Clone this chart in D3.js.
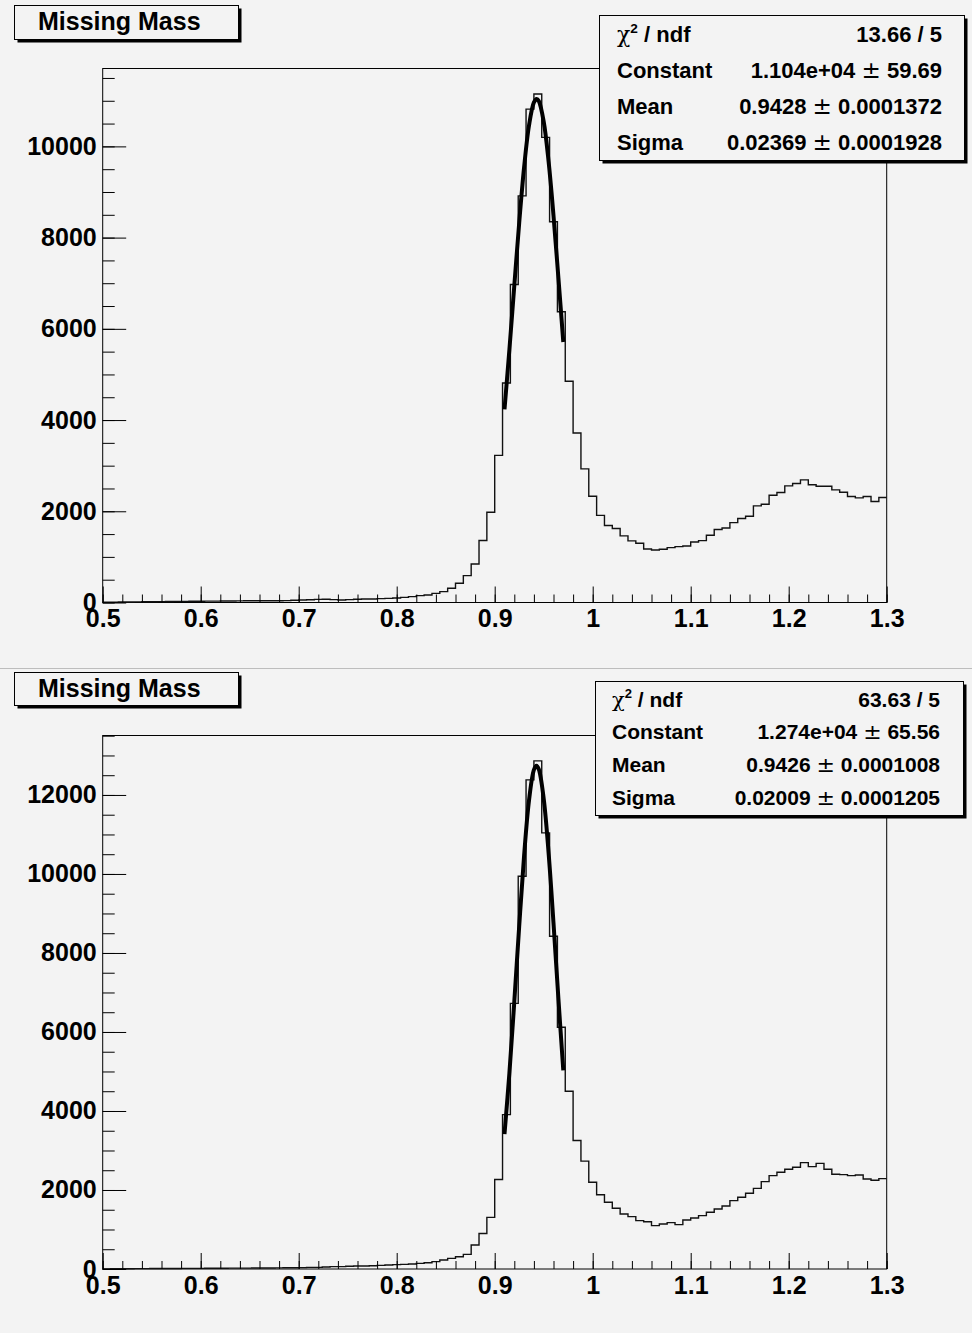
<!DOCTYPE html>
<html><head><meta charset="utf-8">
<script src="https://cdn.jsdelivr.net/npm/d3@7"></script>
<style>
body{margin:0;background:#f3f3f3}
svg{display:block}
text{font-family:"Liberation Sans",Arial,Helvetica,sans-serif;font-weight:bold;fill:#000}
</style>
</head><body>
<svg id="c" width="972" height="1333"></svg>
<script>
// ---------------- data ----------------
const xDomain = [0.5, 1.3];
const nBins = 100;
const xTickLabels = ["0.5","0.6","0.7","0.8","0.9","1","1.1","1.2","1.3"];
const yTicksTop = [0, 2000, 4000, 6000, 8000, 10000];
const yTicksBottom = [0, 2000, 4000, 6000, 8000, 10000, 12000];
const titleText = "Missing Mass";

const topCounts = [
  5, 8, 10, 12, 14, 16, 18, 20, 22, 24,
  25, 27, 28, 30, 31, 33, 34, 36, 37, 38,
  39, 40, 40, 42, 48, 55, 60, 68, 70, 62,
  55, 62, 70, 77, 77, 84, 91, 99, 113, 128,
  150, 165, 201, 238, 311, 421, 589, 845, 1360, 1979,
  3226, 4812, 6972, 8914, 10817, 11150, 10198, 8347, 6376, 4850,
  3717, 2930, 2330, 1910, 1687, 1621, 1460, 1350, 1299, 1174,
  1152, 1167, 1204, 1226, 1240, 1328, 1357, 1474, 1599, 1635,
  1752, 1840, 1892, 2119, 2155, 2353, 2411, 2558, 2609, 2689,
  2580, 2550, 2550, 2470, 2418, 2323, 2294, 2323, 2213, 2301
];
const bottomCounts = [
  3, 5, 6, 8, 9, 10, 11, 12, 13, 14,
  15, 16, 17, 18, 19, 20, 21, 22, 23, 24,
  25, 26, 28, 30, 32, 34, 42, 42, 51, 59,
  59, 68, 76, 76, 84, 93, 101, 110, 118, 127,
  143, 160, 186, 228, 270, 312, 371, 608, 900, 1308,
  2267, 3907, 6723, 9941, 12382, 12862, 11040, 8424, 6121, 4500,
  3253, 2732, 2196, 1880, 1688, 1536, 1393, 1325, 1224, 1198,
  1097, 1139, 1173, 1123, 1241, 1291, 1350, 1435, 1519, 1595,
  1730, 1815, 1916, 2042, 2211, 2363, 2448, 2524, 2574, 2692,
  2591, 2675, 2524, 2397, 2389, 2363, 2380, 2279, 2245, 2287
];

const topFitX = [0.910, 0.915, 0.920, 0.925, 0.930, 0.935, 0.940, 0.9428, 0.945, 0.950, 0.955, 0.960, 0.965, 0.970];
const topFitY = [4234, 5546, 6948, 8325, 9541, 10457, 10963, 11040, 10993, 10542, 9669, 8482, 7117, 5711];
const bottomFitX = [0.910, 0.915, 0.920, 0.925, 0.930, 0.935, 0.940, 0.9426, 0.945, 0.950, 0.955, 0.960, 0.965, 0.970];
const bottomFitY = [3416, 4958, 6767, 8680, 10466, 11861, 12634, 12740, 12650, 11904, 10531, 8755, 6843, 5026];

const statLabels = ["ndf", "Constant", "Mean", "Sigma"];
const topStatValues = ["13.66 / 5", "1.104e+04", "0.9428", "0.02369"];
const topStatErrors = [null, "59.69", "0.0001372", "0.0001928"];
const bottomStatValues = ["63.63 / 5", "1.274e+04", "0.9426", "0.02009"];
const bottomStatErrors = [null, "65.56", "0.0001008", "0.0001205"];

// ---------------- drawing ----------------
const svg = d3.select("#c");
svg.append("rect").attr("width", 972).attr("height", 1333).attr("fill", "#f3f3f3");
svg.append("line").attr("x1", 0).attr("x2", 972).attr("y1", 668.5).attr("y2", 668.5)
  .attr("stroke", "#bdbdbd").attr("stroke-width", 1);

function drawPanel(o) {
  const g = svg.append("g");
  const x = d3.scaleLinear().domain(xDomain).range([o.l, o.r]);
  const yMax = d3.max(o.counts) * 1.05;
  const y = d3.scaleLinear().domain([0, yMax]).range([o.b, o.t]);

  // frame
  g.append("rect").attr("x", o.l).attr("y", o.t).attr("width", o.r - o.l).attr("height", o.b - o.t)
    .attr("fill", "none").attr("stroke", "#000").attr("stroke-width", 1);

  // histogram outline
  const bw = (xDomain[1] - xDomain[0]) / nBins;
  const pts = o.counts.map((c, i) => [xDomain[0] + i * bw, c]);
  pts.push([xDomain[1], o.counts[o.counts.length - 1]]);
  g.append("path").datum(pts)
    .attr("d", d3.line().x(d => x(d[0])).y(d => y(d[1])).curve(d3.curveStepAfter))
    .attr("fill", "none").attr("stroke", "#111").attr("stroke-width", 1.4);

  // fit curve
  const fit = o.fitX.map((v, i) => [v, o.fitY[i]]);
  g.append("path").datum(fit)
    .attr("d", d3.line().x(d => x(d[0])).y(d => y(d[1])).curve(d3.curveCatmullRom))
    .attr("fill", "none").attr("stroke", "#000").attr("stroke-width", 4).attr("stroke-linecap", "butt");

  // x axis major
  const xMajor = xTickLabels.map(Number);
  const xa = g.append("g").attr("transform", `translate(0,${o.b})`)
    .call(d3.axisBottom(x).tickValues(xMajor).tickFormat((d, i) => xTickLabels[i])
      .tickSizeInner(-16).tickSizeOuter(0).tickPadding(7));
  xa.select(".domain").remove();
  xa.selectAll("text").attr("font-size", 25).style("font-weight", "bold");
  const xMinor = d3.range(0, 41).map(i => xDomain[0] + i * 0.02);
  const xm = g.append("g").attr("transform", `translate(0,${o.b})`)
    .call(d3.axisBottom(x).tickValues(xMinor).tickFormat("").tickSizeInner(-8).tickSizeOuter(0));
  xm.select(".domain").remove();

  // y axis major
  const ya = g.append("g").attr("transform", `translate(${o.l},0)`)
    .call(d3.axisLeft(y).tickValues(o.yTicks).tickFormat(d3.format("d"))
      .tickSizeInner(-23.5).tickSizeOuter(0).tickPadding(6));
  ya.select(".domain").remove();
  ya.selectAll("text").attr("font-size", 25).style("font-weight", "bold");
  const yMinor = d3.range(0, yMax, 500);
  const ym = g.append("g").attr("transform", `translate(${o.l},0)`)
    .call(d3.axisLeft(y).tickValues(yMinor).tickFormat("").tickSizeInner(-12).tickSizeOuter(0));
  ym.select(".domain").remove();
  g.selectAll(".tick line").attr("stroke", "#000").attr("stroke-width", 1);

  // title box
  const tb = o.titleBox;
  g.append("rect").attr("x", tb.x + 3).attr("y", tb.y + 3).attr("width", tb.w).attr("height", tb.h).attr("fill", "#000");
  g.append("rect").attr("x", tb.x).attr("y", tb.y).attr("width", tb.w).attr("height", tb.h)
    .attr("fill", "#f3f3f3").attr("stroke", "#000").attr("stroke-width", 1);
  g.append("text").attr("x", tb.tx).attr("y", tb.ty).attr("font-size", 25).text(titleText);

  // stats box
  const sb = o.statBox;
  g.append("rect").attr("x", sb.x + 3).attr("y", sb.y + 3).attr("width", sb.w).attr("height", sb.h).attr("fill", "#000");
  g.append("rect").attr("x", sb.x).attr("y", sb.y).attr("width", sb.w).attr("height", sb.h)
    .attr("fill", "#f3f3f3").attr("stroke", "#000").attr("stroke-width", 1);
  statLabels.forEach((lab, i) => {
    const by = sb.rows[i];
    const t = g.append("text").attr("x", sb.lx).attr("y", by).attr("font-size", sb.fs);
    if (i === 0) {
      t.append("tspan").style("font-weight", "normal").attr("font-family", "DejaVu Serif").text("\u03C7");
      t.append("tspan").attr("font-size", sb.fs * 0.62).attr("dy", -sb.fs * 0.42).text("2");
      t.append("tspan").attr("dy", sb.fs * 0.42).text(" / " + lab);
    } else {
      t.text(lab);
    }
    const v = g.append("text").attr("x", sb.rx).attr("y", by).attr("font-size", sb.fs).attr("text-anchor", "end");
    if (o.statErrors[i] === null) {
      v.text(o.statValues[i]);
    } else {
      v.append("tspan").text(o.statValues[i] + " ");
      v.append("tspan").style("font-weight", "normal").attr("font-family", "DejaVu Sans")
        .attr("font-size", sb.fs * 1.05).text("\u00B1");
      v.append("tspan").text(" " + o.statErrors[i]);
    }
  });
}

drawPanel({
  l: 102.7, r: 886.7, t: 68.5, b: 602.5,
  counts: topCounts, fitX: topFitX, fitY: topFitY, yTicks: yTicksTop,
  statValues: topStatValues, statErrors: topStatErrors,
  titleBox: {x: 14.5, y: 5.5, w: 224, h: 34, tx: 38, ty: 29.5},
  statBox: {x: 599.5, y: 15.5, w: 365, h: 145, lx: 617, rx: 942, fs: 22, rows: [42, 78, 114, 150]}
});
drawPanel({
  l: 102.7, r: 886.7, t: 735.5, b: 1269,
  counts: bottomCounts, fitX: bottomFitX, fitY: bottomFitY, yTicks: yTicksBottom,
  statValues: bottomStatValues, statErrors: bottomStatErrors,
  titleBox: {x: 14.5, y: 672.5, w: 224, h: 33, tx: 38, ty: 697},
  statBox: {x: 595.5, y: 681.5, w: 368, h: 134, lx: 612, rx: 940, fs: 21, rows: [707, 739, 772, 805]}
});
</script>
</body></html>
